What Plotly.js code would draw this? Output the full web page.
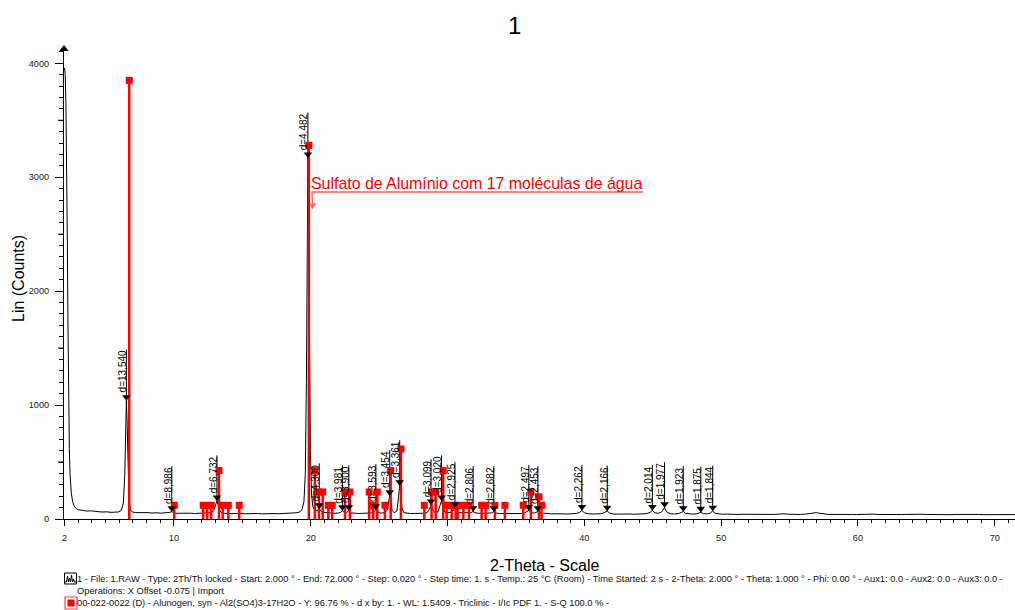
<!DOCTYPE html>
<html><head><meta charset="utf-8">
<script src="https://cdn.plot.ly/plotly-3.0.1.min.js"></script>
<style>body{margin:0;background:#fff}#chart{width:1015px;height:610px}</style>
</head><body><div id="chart"></div>
<script>
// ---------- DATA ----------
const scanX = [2.0,2.05,2.1,2.15,2.2,2.25,2.3,2.35,2.4,2.5,2.6,2.7,2.85,3.0,3.3,3.6,3.9,4.2,4.5,4.8,5.1,5.4,5.7,5.95,6.15,6.3,6.4,6.47,6.52,6.58,6.65,6.72,6.82,6.95,7.2,7.5,7.8,8.1,8.4,8.7,9.0,9.3,9.55,9.7,9.84,9.92,10.0,10.3,10.6,10.9,11.2,11.5,11.8,12.1,12.4,12.7,12.9,13.02,13.08,13.14,13.22,13.32,13.45,13.7,14.0,14.3,14.6,14.9,15.2,15.5,15.8,16.1,16.4,16.7,17.0,17.3,17.6,17.9,18.2,18.5,18.8,19.0,19.2,19.35,19.5,19.6,19.68,19.74,19.79,19.84,19.9,19.97,20.05,20.15,20.3,20.45,20.62,20.75,20.9,21.1,21.4,21.7,22.0,22.2,22.31,22.45,22.6,22.78,22.95,23.2,23.5,23.8,24.1,24.4,24.6,24.76,24.9,25.1,25.4,25.6,25.7,25.77,25.85,25.95,26.1,26.3,26.42,26.5,26.57,26.66,26.8,27.0,27.3,27.6,27.9,28.2,28.5,28.65,28.79,28.9,29.05,29.3,29.45,29.56,29.65,29.8,30.0,30.2,30.4,30.54,30.65,30.85,31.1,31.4,31.7,31.87,32.0,32.3,32.6,32.9,33.2,33.38,33.55,33.8,34.1,34.4,34.7,35.0,35.3,35.6,35.8,35.94,36.1,36.35,36.6,36.8,37.0,37.3,37.6,37.9,38.2,38.5,38.8,39.1,39.4,39.65,39.82,40.0,40.3,40.6,40.9,41.2,41.45,41.67,41.85,42.1,42.4,42.7,43.0,43.3,43.6,43.9,44.2,44.5,44.8,44.97,45.15,45.4,45.65,45.86,46.05,46.3,46.6,46.9,47.1,47.23,47.4,47.7,48.0,48.3,48.51,48.7,49.0,49.2,49.38,49.55,49.8,50.1,50.4,50.7,51.0,51.3,51.6,51.9,52.2,52.5,52.8,53.1,53.4,53.7,54.0,54.3,54.6,54.9,55.2,55.5,55.8,56.1,56.4,56.7,56.95,57.2,57.5,57.8,58.1,58.4,58.7,59.0,59.3,59.6,59.9,60.2,60.5,60.8,61.1,61.4,61.7,62.0,62.3,62.6,62.9,63.2,63.5,63.8,64.1,64.4,64.7,65.0,65.3,65.6,65.9,66.2,66.5,66.8,67.1,67.4,67.7,68.0,68.3,68.6,68.9,69.2,69.5,69.8,70.1,70.4,70.7,71.0,71.3,71.6,72.0];
const scanY = [3960,3900,3650,3200,2500,1700,1000,620,400,220,150,115,92,82,76,70,72,66,64,61,63,58,60,62,75,140,380,800,1040,820,380,150,80,62,56,58,54,56,52,55,51,53,55,58,65,60,53,50,52,49,51,48,50,48,51,55,70,110,145,160,130,80,58,50,48,50,47,49,46,48,46,48,45,47,46,48,46,47,48,50,52,55,62,80,150,400,1200,2400,3170,2700,1500,600,230,110,75,72,90,68,58,55,52,50,52,58,73,56,54,73,54,50,48,50,49,52,62,82,60,52,55,80,160,205,150,75,55,70,200,292,230,100,55,50,48,49,47,50,55,80,125,85,58,62,120,160,110,62,55,58,70,100,72,56,54,52,56,65,55,50,49,51,53,65,52,48,47,48,46,47,48,52,62,75,55,52,65,50,52,47,45,46,44,45,44,46,48,58,75,55,46,44,45,46,55,70,52,44,43,45,42,44,42,44,43,46,58,75,55,50,62,100,58,46,44,48,58,65,48,44,43,48,60,46,45,52,70,50,44,42,43,41,42,40,42,41,40,42,40,41,42,40,41,44,46,42,40,41,40,42,45,48,56,50,44,41,40,41,39,40,41,40,39,41,42,46,43,40,39,40,41,39,40,39,40,42,44,46,42,40,39,40,41,39,40,38,40,41,39,40,38,39,40,38,39,40,38,39,38,40,39,38,39];

// reference pattern 00-022-0022 Alunogen (stick positions / heights)
const refX = [6.73,10.02,12.14,12.43,12.72,13.29,13.56,13.97,14.77,19.86,20.30,20.60,20.87,21.28,21.57,22.50,22.86,24.27,24.57,24.86,25.42,25.84,26.59,28.30,28.83,29.13,29.68,29.93,30.30,30.59,30.73,31.15,31.56,32.49,32.78,33.46,34.19,35.53,36.09,36.68,36.87];
const refY = [3850,120,120,120,120,425,120,120,120,3280,425,237,237,120,120,237,237,237,120,237,120,425,615,120,237,237,425,120,120,120,120,120,120,120,120,120,120,120,237,195,120];

// d-spacing peak labels
const dPos  = [6.52,9.84,13.14,19.79,20.62,22.31,22.78,24.76,25.77,26.50,28.79,29.56,30.54,31.87,33.38,35.94,36.60,39.82,41.67,44.97,45.86,47.23,48.51,49.38];
const dPeak = [1040,65,160,3170,90,73,73,82,205,292,125,160,100,65,65,75,65,75,70,75,100,65,60,70];
const dText = ['d=13,540','d=8,986','d=6,732','d=4,482','d=4,300','d=3,981','d=3,900','d=3,593','d=3,454','d=3,361','d=3,099','d=3,020','d=2,925','d=2,806','d=2,682','d=2,497','d=2,453','d=2,262','d=2,166','d=2,014','d=1,977','d=1,923','d=1,875','d=1,844'];

const xTickVals = [2,10,20,30,40,50,60,70];
const yTickVals = [0,1000,2000,3000,4000];
const yHalfTicks = [500,1500,2500,3500];
const titleText = '1';
const xTitle = '2-Theta - Scale';
const yTitle = 'Lin (Counts)';
const phaseNote = 'Sulfato de Alumínio com 17 moléculas de água';
const legendLine1 = '1 - File: 1.RAW - Type: 2Th/Th locked - Start: 2.000 ° - End: 72.000 ° - Step: 0.020 ° - Step time: 1. s - Temp.: 25 °C (Room) - Time Started: 2 s - 2-Theta: 2.000 ° - Theta: 1.000 ° - Phi: 0.00 ° - Aux1: 0.0 - Aux2: 0.0 - Aux3: 0.0 -';
const legendLine2 = 'Operations: X Offset -0.075 | Import';
const legendLine3 = '00-022-0022 (D) - Alunogen, syn - Al2(SO4)3-17H2O - Y: 96.76 % - d x by: 1. - WL: 1.5409 - Triclinic - I/Ic PDF 1. - S-Q 100.0 % -';

// ---------- GEOMETRY ----------
const W=1015,H=610,ML=64,MR=0,MT=47,MB=91;
const PW=W-ML-MR, PH=H-MT-MB;
const XR=[1.96,71.48], YR=[0,4143];
const cpp=(YR[1]-YR[0])/PH, dpp=(XR[1]-XR[0])/PW;
const px2x=px=>XR[0]+(px-ML)*dpp;
const py2y=py=>YR[0]+(H-MB-py)*cpp;
const pX=px=>(px-ML)/PW;
const pY=py=>(H-MB-py)/PH;
const FONT='"Liberation Sans", Arial, sans-serif';

const ctx=document.createElement('canvas').getContext('2d');
ctx.font='10px "Liberation Sans"';

// ---------- TRACES ----------
const traces=[];
traces.push({x:scanX,y:scanY,type:'scatter',mode:'lines',line:{color:'black',width:1},hoverinfo:'skip'});
traces.push({x:refX,y:refY,type:'scatter',mode:'markers',
  marker:{symbol:'square',size:7,color:'#ff0000'},
  error_y:{type:'data',symmetric:false,array:refY.map(()=>0),arrayminus:refY,color:'#ff0000',thickness:2.5,width:0},
  hoverinfo:'skip'});
traces.push({x:dPos,y:dPeak.map(v=>v+3.5*cpp),type:'scatter',mode:'markers',
  marker:{symbol:'triangle-down',size:7.5,color:'black'},hoverinfo:'skip'});
traces.push({x:[XR[0]],y:[py2y(49)],type:'scatter',mode:'markers',cliponaxis:false,
  marker:{symbol:'triangle-up',size:8,color:'black'},hoverinfo:'skip'});

// ---------- SHAPES & ANNOTATIONS ----------
const shapes=[], annotations=[];
dPos.forEach((p,i)=>{
  const tw=ctx.measureText(dText[i]).width;
  const top=dPeak[i]+(tw+9)*cpp;
  shapes.push({type:'line',xref:'x',yref:'y',x0:p,x1:p,y0:dPeak[i],y1:top,line:{color:'black',width:1},layer:'below'});
  annotations.push({x:p,y:top,xref:'x',yref:'y',text:dText[i],textangle:-90,xanchor:'right',yanchor:'top',
    showarrow:false,borderpad:0,borderwidth:0,xshift:2,yshift:-1,font:{family:FONT,size:10,color:'#000'}});
});
// medium y ticks at the half thousands
yHalfTicks.forEach(v=>{
  shapes.push({type:'line',xref:'paper',yref:'y',x0:pX(ML-6),x1:pX(ML),y0:v,y1:v,line:{color:'#000',width:1}});
});
// phase note with underline and arrow
annotations.push({x:px2x(311),y:py2y(183),xref:'x',yref:'y',text:phaseNote,xanchor:'left',yanchor:'middle',
  showarrow:false,borderpad:0,borderwidth:0,font:{family:FONT,size:15.9,color:'#ff0000'}});
const pinkLine={color:'#ff5a5a',width:1.3};
shapes.push({type:'line',xref:'x',yref:'y',x0:px2x(312),x1:px2x(643),y0:py2y(192),y1:py2y(192),line:pinkLine});
shapes.push({type:'line',xref:'x',yref:'y',x0:px2x(312),x1:px2x(312.5),y0:py2y(192),y1:py2y(208),line:pinkLine});
shapes.push({type:'path',xref:'x',yref:'y',
  path:`M${px2x(310)},${py2y(203)} L${px2x(312.5)},${py2y(208)} L${px2x(315)},${py2y(203)}`,line:pinkLine});

// axis titles
annotations.push({x:pX(544),y:pY(565),xref:'paper',yref:'paper',text:xTitle,showarrow:false,xanchor:'center',yanchor:'middle',
  font:{family:FONT,size:16,color:'#000'}});
annotations.push({x:pX(18),y:pY(279),xref:'paper',yref:'paper',text:yTitle,textangle:-90,showarrow:false,xanchor:'center',yanchor:'middle',
  font:{family:FONT,size:16,color:'#000'}});

// bottom legend lines
[[legendLine1,579],[legendLine2,591],[legendLine3,603]].forEach(([t,py])=>{
  annotations.push({x:pX(77),y:pY(py),xref:'paper',yref:'paper',text:t,showarrow:false,xanchor:'left',yanchor:'middle',
    borderpad:0,borderwidth:0,font:{family:FONT,size:9.3,color:'#111'}});
});
// legend icons
shapes.push({type:'rect',xref:'paper',yref:'paper',x0:pX(64.5),x1:pX(76.5),y0:pY(584),y1:pY(573),line:{color:'#000',width:1},fillcolor:'white'});
const wave=[[65,582],[66.5,582],[67.5,576],[68.5,582],[69.5,578],[70.5,582],[71.5,575],[72.5,582],[73.5,579],[74.5,582],[76,582]];
shapes.push({type:'path',xref:'paper',yref:'paper',path:'M'+wave.map(([a,b])=>pX(a)+','+pY(b)).join(' L'),line:{color:'#000',width:1}});
shapes.push({type:'rect',xref:'paper',yref:'paper',x0:pX(65),x1:pX(77),y0:pY(609),y1:pY(597),line:{color:'#ff4040',width:1.2},fillcolor:'white'});
shapes.push({type:'rect',xref:'paper',yref:'paper',x0:pX(67.5),x1:pX(74.5),y0:pY(606.5),y1:pY(599.5),line:{width:0},fillcolor:'#ff0000'});

// ---------- LAYOUT ----------
const layout={
  width:W,height:H,margin:{l:ML,r:MR,t:MT,b:MB,pad:0},
  paper_bgcolor:'white',plot_bgcolor:'white',showlegend:false,
  font:{family:FONT,color:'#000'},
  title:{text:titleText,font:{family:FONT,size:24,color:'#000'},x:0.507,xanchor:'center',y:0.958,yanchor:'middle'},
  xaxis:{range:XR,showgrid:false,zeroline:false,showline:true,linecolor:'#000',linewidth:1,
    ticks:'outside',ticklen:6,tickcolor:'#000',tickwidth:1,tickmode:'array',tickvals:xTickVals,ticktext:xTickVals.map(String),
    tickfont:{family:FONT,size:9.2,color:'#222'},ticklabelstandoff:4,
    minor:{ticks:'outside',ticklen:3,dtick:1,tick0:0,tickcolor:'#000',showgrid:false}},
  yaxis:{range:YR,showgrid:false,zeroline:false,showline:true,linecolor:'#000',linewidth:1,
    ticks:'outside',ticklen:8,tickcolor:'#000',tickwidth:1,tickmode:'array',tickvals:yTickVals,ticktext:yTickVals.map(String),
    tickfont:{family:FONT,size:9.2,color:'#222'},ticklabelstandoff:4,
    minor:{ticks:'outside',ticklen:4,dtick:100,tick0:0,tickcolor:'#000',showgrid:false}},
  shapes:shapes,annotations:annotations
};
Plotly.newPlot('chart',traces,layout,{staticPlot:true,displayModeBar:false});
</script></body></html>
